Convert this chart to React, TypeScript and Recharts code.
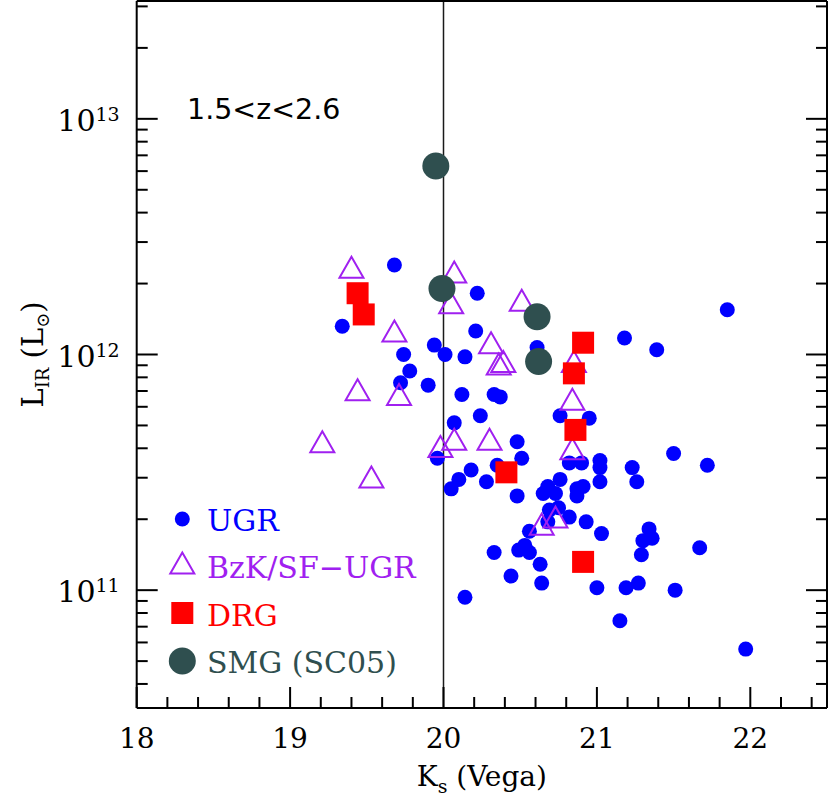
import React from "react";
import { ScatterChart, Scatter, XAxis, YAxis, ReferenceLine, Legend, Customized } from "recharts";

const SERIF = "'DejaVu Serif', serif";
const SANS = "'DejaVu Sans', sans-serif";

// K_s (Vega) and log10(L_IR / Lsun) per sample
const ugrK = [19.68, 19.34, 20.22, 20.21, 19.94, 20.01, 20.14, 19.74, 19.78, 19.72, 19.9, 20.12, 20.24, 20.07, 19.96, 20.18, 20.1, 20.05, 20.28, 20.14, 20.61, 21.18, 21.39, 21.85, 20.33, 20.37, 20.76, 20.95, 20.48, 20.51, 20.35, 20.48, 20.82, 20.9, 21.02, 21.02, 21.02, 21.23, 21.26, 21.5, 21.72, 20.76, 20.68, 20.65, 20.73, 20.87, 20.91, 20.87, 20.69, 20.75, 20.82, 20.68, 20.93, 20.56, 21.03, 20.33, 20.49, 20.53, 20.56, 20.63, 20.44, 20.64, 21.0, 21.19, 21.27, 21.51, 21.15, 21.97, 21.34, 21.36, 21.3, 21.29, 21.67];
const ugrL = [12.38, 12.12, 12.26, 12.1, 12.04, 12.0, 11.99, 12.0, 11.93, 11.88, 11.87, 11.83, 11.74, 11.71, 11.56, 11.51, 11.47, 11.43, 11.46, 10.97, 12.03, 12.07, 12.02, 12.19, 11.83, 11.82, 11.74, 11.73, 11.63, 11.56, 11.53, 11.4, 11.54, 11.54, 11.55, 11.52, 11.46, 11.52, 11.46, 11.58, 11.53, 11.47, 11.44, 11.41, 11.41, 11.43, 11.44, 11.4, 11.34, 11.35, 11.31, 11.29, 11.29, 11.25, 11.24, 11.16, 11.17, 11.19, 11.16, 11.11, 11.06, 11.03, 11.01, 11.01, 11.03, 11.0, 10.87, 10.75, 11.26, 11.22, 11.21, 11.15, 11.18];

const bzkK = [19.4, 20.07, 20.05, 19.68, 19.44, 19.71, 19.21, 19.53, 19.98, 20.07, 20.3, 20.31, 20.39, 20.36, 20.85, 20.84, 20.84, 20.51, 20.64, 20.73];
const bzkL = [12.37, 12.35, 12.22, 12.1, 11.85, 11.83, 11.63, 11.48, 11.61, 11.64, 11.64, 12.05, 11.97, 11.96, 11.97, 11.81, 11.6, 12.23, 11.28, 11.31];

const drgK = [19.44, 19.48, 20.91, 20.85, 20.86, 20.41, 20.91];
const drgL = [12.26, 12.17, 12.05, 11.92, 11.68, 11.5, 11.12];

const smgK = [19.95, 19.99, 20.61, 20.62];
const smgL = [12.8, 12.28, 12.16, 11.97];

const xTicks = Array.from({ length: 23 }, (_, i) => +(18 + i * 0.2).toFixed(1));
const yTicks = [10, 11, 12, 13]
  .flatMap((n) => [1, 2, 3, 4, 5, 6, 7, 8, 9].map((m) => n + Math.log10(m)))
  .filter((v) => v >= 10.5 && v <= 13.5);

const pts = (ks: number[], ls: number[]) => ks.map((k, i) => ({ k, l: ls[i] }));
const isMajor = (v: number) => Math.abs(v - Math.round(v)) < 1e-6;

const BLUE = "#0000ff";
const PURPLE = "#a020f0";
const RED = "#ff0000";
const SLATE = "#2f4f4f";

const DotShape = (p: any) => <circle cx={p.cx} cy={p.cy} r={7.5} fill={BLUE} />;
const TriShape = (p: any) => (
  <polygon
    points={`${p.cx},${p.cy - 10.5} ${p.cx - 12},${p.cy + 10.5} ${p.cx + 12},${p.cy + 10.5}`}
    fill="none"
    stroke={PURPLE}
    strokeWidth={2}
  />
);
const SquareShape = (p: any) => <rect x={p.cx - 11} y={p.cy - 11} width={22} height={22} fill={RED} />;
const SmgShape = (p: any) => <circle cx={p.cx} cy={p.cy} r={13.5} fill={SLATE} />;

const BottomTick = ({ x, y, payload }: any) => {
  const major = isMajor(payload.value);
  return (
    <g>
      <line x1={x} x2={x} y1={y} y2={y - (major ? 21 : 11)} stroke="#000" strokeWidth={2} />
      {major && (
        <text x={x} y={y + 40} textAnchor="middle" fontFamily={SERIF} fontSize={28} fill="#000">
          {Math.round(payload.value)}
        </text>
      )}
    </g>
  );
};

const TopTick = ({ x, y, payload }: any) => (
  <line x1={x} x2={x} y1={y} y2={y + (isMajor(payload.value) ? 21 : 11)} stroke="#000" strokeWidth={2} />
);

const LeftTick = ({ x, y, payload }: any) => {
  const major = isMajor(payload.value);
  return (
    <g>
      <line x1={x} x2={x + (major ? 21 : 11)} y1={y} y2={y} stroke="#000" strokeWidth={2} />
      {major && (
        <text x={x - 17} y={y + 12} textAnchor="end" fontFamily={SERIF} fontSize={30} fill="#000">
          10
          <tspan dy={-10} fontSize={19}>
            {Math.round(payload.value)}
          </tspan>
        </text>
      )}
    </g>
  );
};

const RightTick = ({ x, y, payload }: any) => (
  <line x1={x} x2={x - (isMajor(payload.value) ? 21 : 11)} y1={y} y2={y} stroke="#000" strokeWidth={2} />
);

const XTitle = ({ viewBox }: any) => (
  <text x={viewBox.x + viewBox.width / 2} y={786} textAnchor="middle" fontFamily={SERIF} fontSize={28} fill="#000">
    K
    <tspan dy={7} fontSize={19}>s</tspan>
    <tspan dy={-7}> (Vega)</tspan>
  </text>
);

const YTitle = ({ viewBox }: any) => {
  const cy = viewBox.y + viewBox.height / 2;
  return (
    <text transform={`translate(43,${cy}) rotate(-90)`} x={0} y={0} textAnchor="middle" fontFamily={SERIF} fontSize={29} fill="#000">
      L
      <tspan dy={6} fontSize={18}>IR</tspan>
      <tspan dy={-6}> (L</tspan>
      <tspan dy={6} fontSize={18}>⊙</tspan>
      <tspan dy={-6}>)</tspan>
    </text>
  );
};

const RangeNote = () => (
  <text x={187} y={119} fontFamily={SANS} fontSize={28.5} fill="#000">
    {"1.5<z<2.6"}
  </text>
);

const LegendBox = () => (
  <svg width={280} height={195} style={{ overflow: "visible" }}>
    <circle cx={22.3} cy={24} r={7.5} fill={BLUE} />
    <text x={47} y={36} fontFamily={SERIF} fontSize={30} fill={BLUE}>UGR</text>
    <polygon points="22.3,57.5 10.3,78.5 34.3,78.5" fill="none" stroke={PURPLE} strokeWidth={2} />
    <text x={47} y={83} fontFamily={SERIF} fontSize={30} fill={PURPLE}>BzK/SF−UGR</text>
    <rect x={11.3} y={107} width={22} height={22} fill={RED} />
    <text x={47} y={131} fontFamily={SERIF} fontSize={30} fill={RED}>DRG</text>
    <circle cx={22.3} cy={166} r={13.5} fill={SLATE} />
    <text x={47} y={178} fontFamily={SERIF} fontSize={30} fill={SLATE}>SMG (SC05)</text>
  </svg>
);

export default function App() {
  return (
    <div style={{ position: "absolute", left: 0, top: 0, background: "#fff" }}>
      <ScatterChart width={830} height={801} margin={{ top: 0, right: 0, bottom: 0, left: 76.7 }}>
        <XAxis
          xAxisId="b"
          type="number"
          dataKey="k"
          domain={[18, 22.5]}
          ticks={xTicks}
          interval={0}
          allowDataOverflow
          height={93}
          tickSize={0}
          tickMargin={0}
          tickLine={false}
          axisLine={{ stroke: "#000", strokeWidth: 2 }}
          tick={<BottomTick />}
          label={<XTitle />}
        />
        <XAxis
          xAxisId="t"
          orientation="top"
          type="number"
          domain={[18, 22.5]}
          ticks={xTicks}
          interval={0}
          allowDataOverflow
          height={1}
          tickSize={0}
          tickMargin={0}
          tickLine={false}
          axisLine={{ stroke: "#000", strokeWidth: 2 }}
          tick={<TopTick />}
        />
        <YAxis
          yAxisId="l"
          type="number"
          dataKey="l"
          domain={[10.5, 13.5]}
          ticks={yTicks}
          interval={0}
          allowDataOverflow
          width={60}
          tickSize={0}
          tickMargin={0}
          tickLine={false}
          axisLine={{ stroke: "#000", strokeWidth: 2 }}
          tick={<LeftTick />}
          label={<YTitle />}
        />
        <YAxis
          yAxisId="r"
          orientation="right"
          type="number"
          domain={[10.5, 13.5]}
          ticks={yTicks}
          interval={0}
          allowDataOverflow
          width={3}
          tickSize={0}
          tickMargin={0}
          tickLine={false}
          axisLine={{ stroke: "#000", strokeWidth: 2 }}
          tick={<RightTick />}
        />
        <ReferenceLine xAxisId="b" yAxisId="l" x={20} stroke="#1a1a1a" strokeWidth={1.5} />
        <Scatter xAxisId="b" yAxisId="l" name="UGR" data={pts(ugrK, ugrL)} shape={DotShape} isAnimationActive={false} />
        <Scatter xAxisId="b" yAxisId="l" name="BzK/SF-UGR" data={pts(bzkK, bzkL)} shape={TriShape} isAnimationActive={false} />
        <Scatter xAxisId="b" yAxisId="l" name="DRG" data={pts(drgK, drgL)} shape={SquareShape} isAnimationActive={false} />
        <Scatter xAxisId="b" yAxisId="l" name="SMG (SC05)" data={pts(smgK, smgL)} shape={SmgShape} isAnimationActive={false} />
        <Customized component={RangeNote} />
        <Legend
          layout="vertical"
          align="center"
          verticalAlign="middle"
          content={<LegendBox />}
          wrapperStyle={{ left: 160, top: 495, width: 280, height: 195 }}
        />
      </ScatterChart>
    </div>
  );
}
